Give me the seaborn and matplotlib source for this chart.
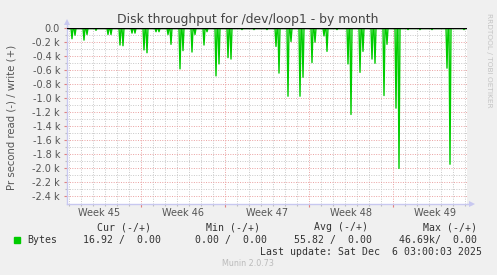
import numpy as np
import pandas as pd
import matplotlib
matplotlib.use("Agg")
import matplotlib.pyplot as plt
from matplotlib.ticker import FixedLocator
import seaborn as sns

# ---------------- data ----------------
# time axis: hours since start of graph (2h resolution), read values in k (bytes/s / 1000)
spike_hours = [10, 16, 34, 40, 58, 82, 88, 106, 112, 130, 136, 154, 160, 178, 184,
               202, 208, 226, 232, 250, 256, 274, 280, 298, 304, 322, 328, 350, 374,
               400, 418, 424, 442, 448, 466, 472, 490, 496, 514, 520, 540, 562, 568,
               586, 592, 610, 616, 634, 640, 658, 664, 682, 706, 730, 760, 766, 794]
spike_read_k = [0.15, 0.10, 0.17, 0.09, 0.03, 0.09, 0.09, 0.24, 0.25, 0.07, 0.07,
                0.31, 0.35, 0.05, 0.05, 0.09, 0.23, 0.58, 0.32, 0.34, 0.09, 0.24,
                0.05, 0.68, 0.51, 0.42, 0.44, 0.02, 0.02, 0.02, 0.26, 0.64, 0.97,
                0.19, 0.97, 0.70, 0.49, 0.20, 0.11, 0.33, 0.02, 0.51, 1.23, 0.63,
                0.33, 0.44, 0.50, 0.96, 0.23, 1.14, 2.00, 0.02, 0.02, 0.02, 0.57,
                1.94, 0.02]
total_hours = 799
week_labels = ["Week 45", "Week 46", "Week 47", "Week 48", "Week 49"]
week_start_days = [6.14, 13.14, 20.14, 27.14]
y_ticks = [0.0, -0.2, -0.4, -0.6, -0.8, -1.0, -1.2, -1.4, -1.6, -1.8, -2.0, -2.2, -2.4]
y_tick_labels = ["0.0"] + [f"{v:.1f} k" for v in y_ticks[1:]]

legend_headers = ["Cur (-/+)", "Min (-/+)", "Avg (-/+)", "Max (-/+)"]
legend_values = ["16.92 /  0.00", "0.00 /  0.00", "55.82 /  0.00", "46.69k/  0.00"]
series_name = "Bytes"
last_update = "Last update: Sat Dec  6 03:00:03 2025"
title = "Disk throughput for /dev/loop1 - by month"

# build series at 2h resolution
hours = np.arange(0, total_hours, 2)
read = np.zeros(len(hours))
for h, v in zip(spike_hours, spike_read_k):
    read[h // 2] = -v
df = pd.DataFrame({"day": hours / 24.0, "read": read, "write": np.zeros(len(hours))})

# ---------------- figure ----------------
sns.set_theme(style="white")
plt.rcParams["font.family"] = ["DejaVu Sans"]
W, H = 497, 275
fig = plt.figure(figsize=(W / 100, H / 100), dpi=100, facecolor="#f0f0f0")
L, R, T, B = 67, 466.5, 27.5, 203.5
ax = fig.add_axes([L / W, 1 - B / H, (R - L) / W, (B - T) / H])
ax.set_facecolor("white")

xmax = (R - L) / 12.0
ax.set_xlim(0, xmax)
ax.set_ylim(-2.5, 0.01)

# grid
ax.xaxis.set_major_locator(FixedLocator(week_start_days))
day_minor = np.arange(week_start_days[0] % 1, xmax, 1.0)
ax.xaxis.set_minor_locator(FixedLocator(day_minor))
ax.yaxis.set_major_locator(FixedLocator(y_ticks))
ax.yaxis.set_minor_locator(FixedLocator(np.arange(-0.1, -2.5, -0.2)))
ax.grid(which="minor", color="#c8c8c8", linestyle=(0, (1, 1.5)), linewidth=0.7)
ax.grid(which="major", color="#eaa0a0", linestyle=(0, (1, 1.5)), linewidth=0.7)
ax.set_axisbelow(True)

ax.set_yticklabels(y_tick_labels)
ax.set_xticklabels([])
ax.tick_params(axis="y", which="major", length=2.5, width=0.8, color="#e08080",
               labelsize=7, labelcolor="#555555", pad=2.5, left=True)
ax.tick_params(axis="y", which="minor", length=1.5, width=0.8, color="#bbbbbb", left=True)
ax.tick_params(axis="x", which="major", length=2.5, width=0.8, color="#e08080", bottom=True)
ax.tick_params(axis="x", which="minor", length=1.5, width=0.8, color="#bbbbbb", bottom=True)

# data lines
sns.lineplot(data=df, x="day", y="write", ax=ax, color="#00cc00", linewidth=1.0)
sns.lineplot(data=df, x="day", y="read", ax=ax, color="#00cc00", linewidth=1.0)
ax.axhline(0, color="black", linewidth=1.0, zorder=5)
ax.set_xlabel("")
ax.set_ylabel("")

# spines
for s in ["top", "right"]:
    ax.spines[s].set_visible(False)
for s in ["left", "bottom"]:
    ax.spines[s].set_color("#c8c8f0")
    ax.spines[s].set_linewidth(1.0)
ax.plot([0, 0], [1.0, 1.03], transform=ax.transAxes, color="#c8c8f0", lw=1, clip_on=False)
ax.plot([0], [1.03], transform=ax.transAxes, marker="^", ms=4, color="#c8c8f0",
        clip_on=False, markeredgewidth=0)
ax.plot([1.0, 1.015], [0, 0], transform=ax.transAxes, color="#c8c8f0", lw=1, clip_on=False)
ax.plot([1.015], [0], transform=ax.transAxes, marker=">", ms=4, color="#c8c8f0",
        clip_on=False, markeredgewidth=0)

# week labels
week_centers = [d - 3.5 for d in week_start_days] + [week_start_days[-1] + 3.5]
for c, lab in zip(week_centers, week_labels):
    ax.text(c, -0.052, lab, transform=ax.get_xaxis_transform(), ha="center", va="center",
            fontsize=7, color="#555555")

# title & labels
fig.text(248 / W, 1 - 19.5 / H, title, ha="center", va="center", fontsize=8.9, color="#444444")
fig.text(12 / W, 1 - 117 / H, "Pr second read (-) / write (+)", rotation=90,
         ha="center", va="center", fontsize=7.3, color="#555555")
fig.text(489 / W, 1 - 60 / H, "RRDTOOL / TOBI OETIKER", rotation=270,
         ha="center", va="center", fontsize=5.3, color="#c4c4c4")

# legend block
mono = "DejaVu Sans Mono"
hdr_right = [151, 260, 368, 477]
val_right = [161, 267, 372, 477]
for x, t in zip(hdr_right, legend_headers):
    fig.text(x / W, 1 - 227 / H, t, ha="right", va="center", family=mono, fontsize=7.1, color="#333333")
for x, t in zip(val_right, legend_values):
    fig.text(x / W, 1 - 240 / H, t, ha="right", va="center", family=mono, fontsize=7.1, color="#333333")
fig.text(27 / W, 1 - 240 / H, series_name, ha="left", va="center", family=mono, fontsize=7.1, color="#333333")
fig.patches.append(plt.Rectangle((14 / W, 1 - 243 / H), 6 / W, 6 / H, transform=fig.transFigure,
                                 color="#00cc00", figure=fig))
fig.text(482 / W, 1 - 252 / H, last_update, ha="right", va="center", family=mono, fontsize=7.1, color="#333333")
fig.text(248 / W, 1 - 264 / H, "Munin 2.0.73", ha="center", va="center", fontsize=5.8, color="#bbbbbb")

fig.savefig("out.png", dpi=100, facecolor=fig.get_facecolor())
